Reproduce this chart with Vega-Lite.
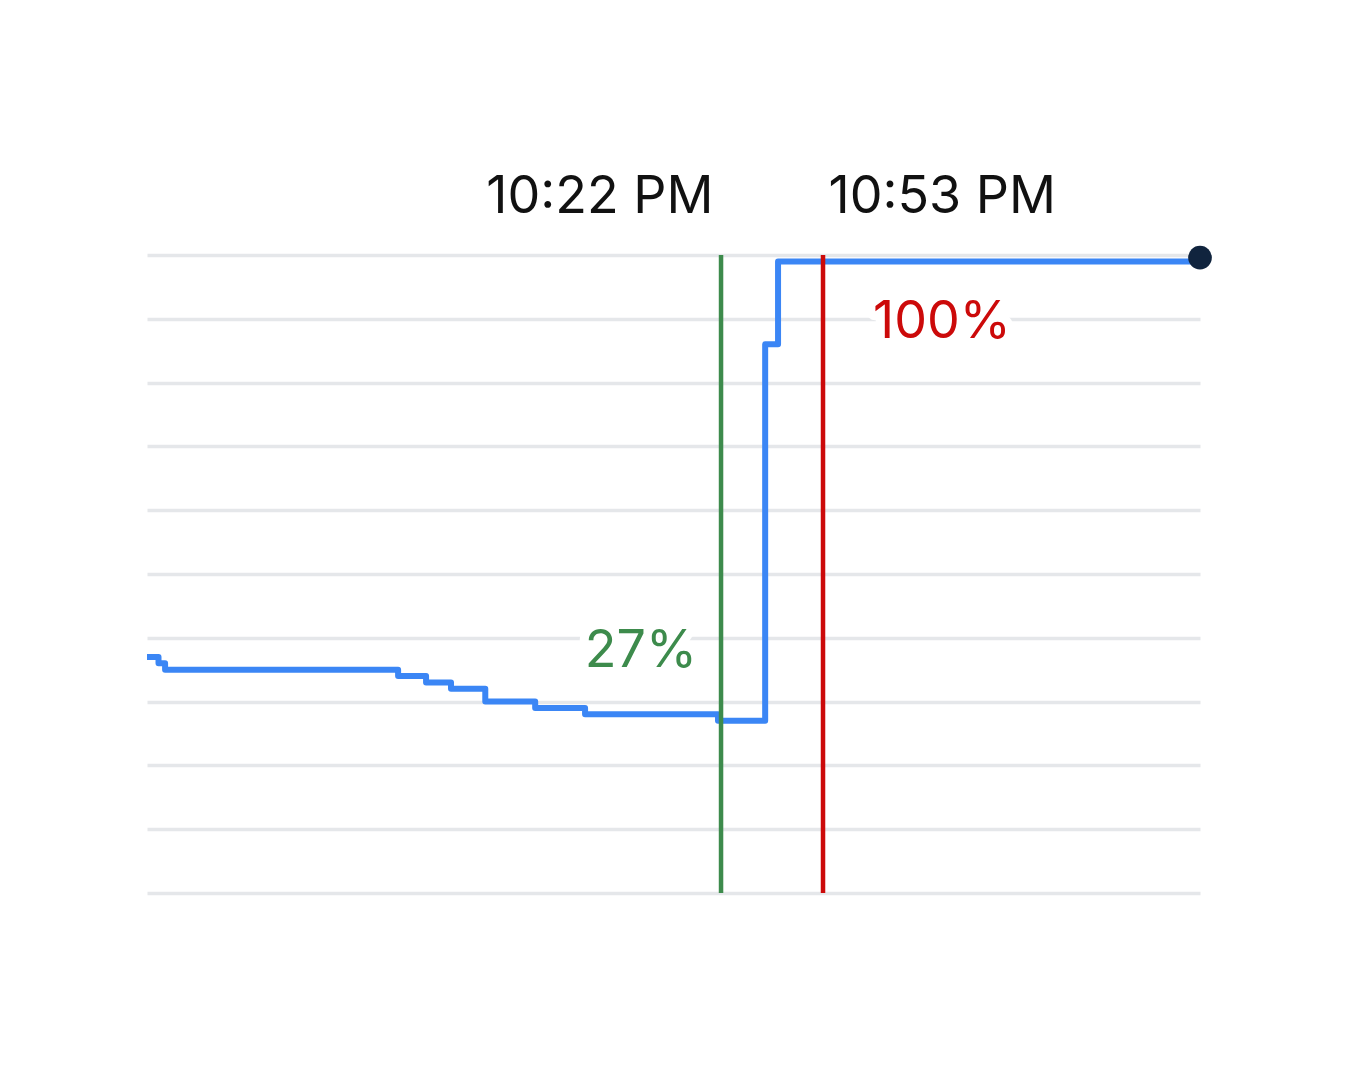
{
  "$schema": "https://vega.github.io/schema/vega-lite/v6.json",
  "width": 1053,
  "height": 638,
  "autosize": {"type": "none"},
  "padding": {"left": 147, "top": 255, "right": 150, "bottom": 187},
  "background": "white",
  "config": {"view": {"stroke": null}, "font": "Inter"},
  "datasets": {
    "level": [
      {"time": "2024-01-01T19:27:30", "pct": 37},
      {"time": "2024-01-01T19:31:00", "pct": 36},
      {"time": "2024-01-01T19:33:00", "pct": 35},
      {"time": "2024-01-01T20:43:50", "pct": 34},
      {"time": "2024-01-01T20:52:20", "pct": 33},
      {"time": "2024-01-01T20:59:55", "pct": 32},
      {"time": "2024-01-01T21:10:20", "pct": 30},
      {"time": "2024-01-01T21:25:30", "pct": 29},
      {"time": "2024-01-01T21:40:40", "pct": 28},
      {"time": "2024-01-01T22:21:05", "pct": 27},
      {"time": "2024-01-01T22:35:25", "pct": 86},
      {"time": "2024-01-01T22:39:20", "pct": 99},
      {"time": "2024-01-02T00:47:36", "pct": 99}
    ],
    "markers": [
      {"time": "2024-01-01T22:22:00", "event": "start", "pct": 27, "label": "27%"},
      {"time": "2024-01-01T22:53:00", "event": "end", "pct": 100, "label": "100%"}
    ],
    "now": [{"time": "2024-01-02T00:47:36", "pct": 99.6}]
  },
  "encoding": {
    "x": {
      "field": "time",
      "type": "temporal",
      "scale": {
        "domain": [
          {"year": 2024, "month": 1, "date": 1, "hours": 19, "minutes": 27, "seconds": 30},
          {"year": 2024, "month": 1, "date": 2, "hours": 0, "minutes": 47, "seconds": 36}
        ],
        "nice": false
      },
      "axis": {
        "orient": "top",
        "values": [
          {"year": 2024, "month": 1, "date": 1, "hours": 22, "minutes": 22},
          {"year": 2024, "month": 1, "date": 1, "hours": 22, "minutes": 53}
        ],
        "format": "%-I:%M %p",
        "title": null,
        "domain": false,
        "ticks": false,
        "tickSize": 0,
        "grid": false,
        "labelFont": "Inter",
        "labelFontSize": 52,
        "labelColor": "#111111",
        "labelBaseline": "alphabetic",
        "labelPadding": 43,
        "labelLimit": 0,
        "labelFlush": false,
        "labelOverlap": false,
        "labelAlign": {"condition": {"test": "datum.value < datetime(2024,0,1,22,30)", "value": "right"}, "value": "left"},
        "labelOffset": {"condition": {"test": "datum.value < datetime(2024,0,1,22,30)", "value": -8}, "value": 5}
      }
    }
  },
  "layer": [
    {
      "data": {"name": "level"},
      "mark": {"type": "line", "interpolate": "step-after", "color": "#3b86f5", "strokeWidth": 6, "strokeJoin": "round"},
      "encoding": {
        "y": {
          "field": "pct",
          "type": "quantitative",
          "scale": {"domain": [0, 100], "nice": false, "zero": true},
          "axis": {
            "values": [0, 10, 20, 30, 40, 50, 60, 70, 80, 90, 100],
            "grid": true,
            "gridColor": "#e5e7ea",
            "gridWidth": 3.5,
            "labels": false,
            "ticks": false,
            "domain": false,
            "title": null
          }
        }
      }
    },
    {
      "data": {"name": "markers"},
      "mark": {"type": "text", "font": "Inter", "fontSize": 52, "baseline": "alphabetic", "color": "white", "stroke": "white", "strokeWidth": 18, "strokeJoin": "round", "align": "right", "dx": -24, "dy": -54},
      "transform": [{"filter": "datum.event == 'start'"}],
      "encoding": {"y": {"field": "pct", "type": "quantitative"}, "text": {"field": "label"}}
    },
    {
      "data": {"name": "markers"},
      "mark": {"type": "text", "font": "Inter", "fontSize": 52, "baseline": "alphabetic", "color": "white", "stroke": "white", "strokeWidth": 18, "strokeJoin": "round", "align": "left", "dx": 50, "dy": 83},
      "transform": [{"filter": "datum.event == 'end'"}],
      "encoding": {"y": {"field": "pct", "type": "quantitative"}, "text": {"field": "label"}}
    },
    {
      "data": {"name": "markers"},
      "mark": {"type": "rule", "strokeWidth": 4.5},
      "encoding": {
        "color": {"field": "event", "type": "nominal", "scale": {"domain": ["start", "end"], "range": ["#3d8b4c", "#cc0a0a"]}, "legend": null}
      }
    },
    {
      "data": {"name": "markers"},
      "mark": {"type": "text", "font": "Inter", "fontSize": 52, "baseline": "alphabetic", "align": "right", "dx": -24, "dy": -54},
      "transform": [{"filter": "datum.event == 'start'"}],
      "encoding": {
        "y": {"field": "pct", "type": "quantitative"},
        "text": {"field": "label"},
        "color": {"field": "event", "type": "nominal", "legend": null}
      }
    },
    {
      "data": {"name": "markers"},
      "mark": {"type": "text", "font": "Inter", "fontSize": 52, "baseline": "alphabetic", "align": "left", "dx": 50, "dy": 83},
      "transform": [{"filter": "datum.event == 'end'"}],
      "encoding": {
        "y": {"field": "pct", "type": "quantitative"},
        "text": {"field": "label"},
        "color": {"field": "event", "type": "nominal", "legend": null}
      }
    },
    {
      "data": {"name": "now"},
      "mark": {"type": "point", "filled": true, "shape": "circle", "size": 560, "color": "#10243e", "opacity": 1},
      "encoding": {"y": {"field": "pct", "type": "quantitative"}}
    }
  ]
}
